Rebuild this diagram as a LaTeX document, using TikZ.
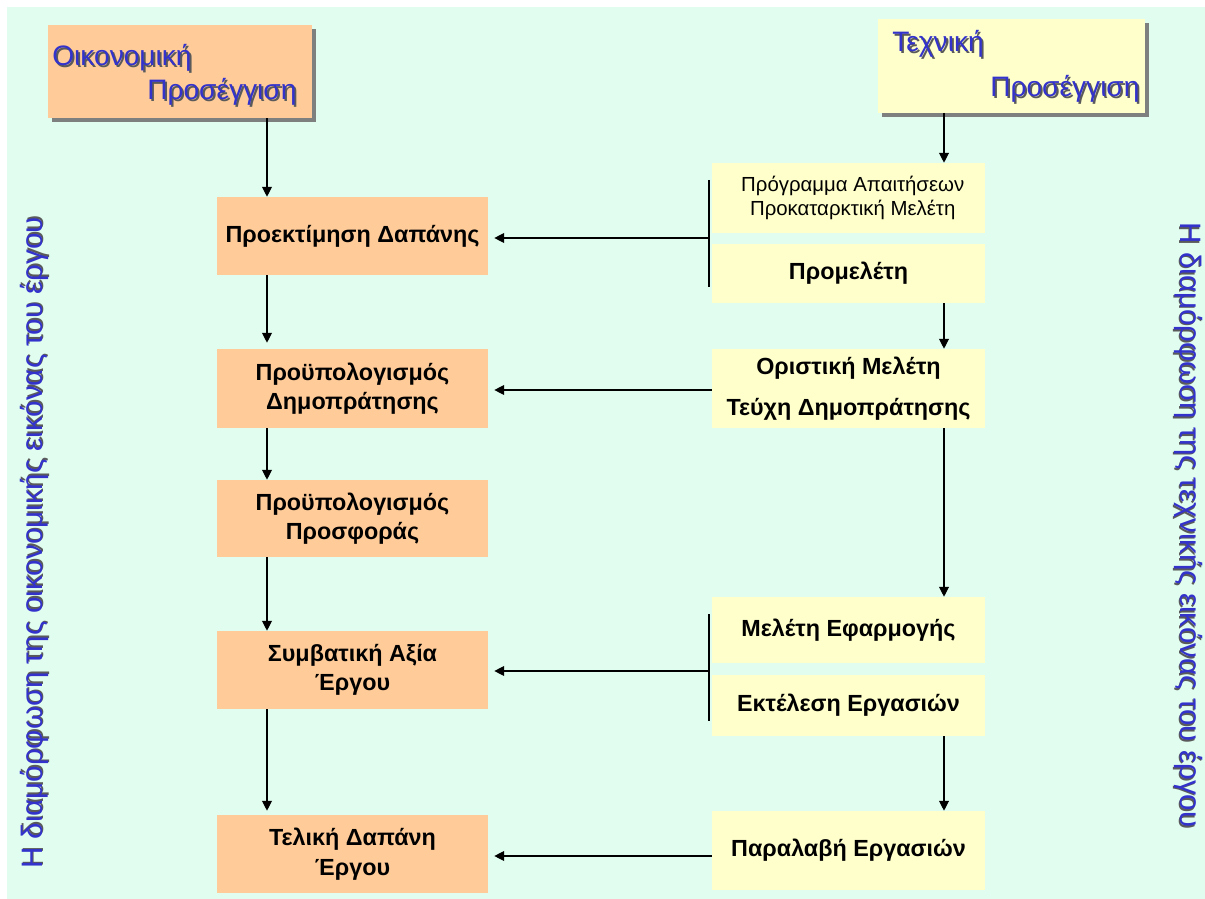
\documentclass[tikz,border=0pt]{standalone}
\usepackage{fontspec}
\setmainfont{Liberation Sans}
\usetikzlibrary{arrows.meta,shadows}

\definecolor{mint}{RGB}{224,253,240}
\definecolor{peach}{RGB}{255,204,153}
\definecolor{cream}{RGB}{255,255,204}
\definecolor{hblue}{RGB}{51,51,204}
\definecolor{shgray}{RGB}{90,90,90}

% blue text with a grey shadow
\newcommand\shtext[1]{\makebox[0pt][l]{\hspace{1.3pt}\raisebox{-1.3pt}{\color{shgray}#1}}{\color{hblue}#1}}

\begin{document}
\begin{tikzpicture}[x=0.025cm,y=-0.025cm,
    hdr/.style={inner sep=0pt,minimum width=6.6cm,minimum height=2.325cm,
      drop shadow={shadow xshift=0.1cm,shadow yshift=-0.1cm,fill=black!55,opacity=0.9}},
    htxt/.style={inner sep=0pt,font=\fontsize{20}{24}\selectfont},
    lbox/.style={fill=peach,inner sep=0pt,minimum width=6.775cm,align=center,
      font=\bfseries\fontsize{16.6}{21}\selectfont},
    rbox/.style={fill=cream,inner sep=0pt,minimum width=6.825cm,align=center,
      font=\bfseries\fontsize{16.6}{21}\selectfont},
    arr/.style={-{Triangle[width=7pt,length=7pt]},line width=0.8pt},
    brk/.style={line width=1.6pt}]
  \useasboundingbox (0,0) rectangle (1205,899);
  \fill[mint] (7,7) rectangle (1205,899);

  % the two approaches
  \node (oik) [hdr,fill=peach] at (180,71.5) {};
  \node (oikA) [htxt,anchor=base west] at (52,66) {\shtext{Οικονομική}};
  \node (oikB) [htxt,anchor=base west] at (147,100) {\shtext{Προσέγγιση}};
  \node (tex) [hdr,fill=cream,minimum width=6.675cm] at (1011.5,66) {};
  \node (texA) [htxt,anchor=base west] at (892,52) {\shtext{Τεχνική}};
  \node (texB) [htxt,anchor=base west] at (990,97) {\shtext{Προσέγγιση}};

  % economic side
  \node (pd)  [lbox,minimum height=1.95cm]  at (352.5,236)   {Προεκτίμηση Δαπάνης};
  \node (pyd) [lbox,minimum height=1.975cm] at (352.5,388.5) {Προϋπολογισμός\\Δημοπράτησης};
  \node (pyp) [lbox,minimum height=1.925cm] at (352.5,518.5) {Προϋπολογισμός\\Προσφοράς};
  \node (sae) [lbox,minimum height=1.95cm]  at (352.5,670)   {Συμβατική Αξία\\Έργου};
  \node (tde) [lbox,minimum height=1.95cm]  at (352.5,854)   {Τελική Δαπάνη\\Έργου};

  % technical side
  \node (pa) [rbox,minimum height=1.75cm,font=\fontsize{14.5}{17.5}\selectfont] at (848.5,198)
    {\hspace*{6pt}Πρόγραμμα Απαιτήσεων\\\hspace*{6pt}Προκαταρκτική Μελέτη};
  \node (pm) [rbox,minimum height=1.475cm] at (848.5,273.5) {Προμελέτη};
  \node (om) [rbox,minimum height=1.975cm] at (848.5,388.5) {Οριστική Μελέτη\\[8pt]Τεύχη Δημοπράτησης};
  \node (me) [rbox,minimum height=1.65cm]  at (848.5,630)   {Μελέτη Εφαρμογής};
  \node (ee) [rbox,minimum height=1.525cm] at (848.5,705.5) {Εκτέλεση Εργασιών};
  \node (pe) [rbox,minimum height=1.975cm] at (848.5,850.5) {Παραλαβή Εργασιών};

  % side titles
  \node (sl) [htxt,rotate=90,font=\fontsize{21}{24}\selectfont] at (35,543)
    {\shtext{Η διαμόρφωση της οικονομικής εικόνας του έργου}};
  \node (sr) [htxt,rotate=-90,font=\fontsize{21}{24}\selectfont] at (1188,525)
    {\shtext{Η διαμόρφωση της τεχνικής εικόνας του έργου}};

  \coordinate (lx) at (267,0);
  \coordinate (rx) at (944,0);
  \coordinate (b1t) at (709,180);
  \coordinate (b1m) at (709,238);
  \coordinate (b1b) at (709,287);
  \coordinate (b2t) at (709,614);
  \coordinate (b2m) at (709,671);
  \coordinate (b2b) at (709,721);

  % down the left
  \draw[arr] (oik.south -| lx) -- (pd.north -| lx);
  \draw[arr,shorten >=0.15cm] (pd.south -| lx) -- (pyd.north -| lx);
  \draw[arr] (pyd.south -| lx) -- (pyp.north -| lx);
  \draw[arr] (pyp.south -| lx) -- (sae.north -| lx);
  \draw[arr,shorten >=0.1cm] (sae.south -| lx) -- (tde.north -| lx);

  % down the right
  \draw[arr] (tex.south -| rx) -- (pa.north -| rx);
  \draw[arr] (pm.south -| rx) -- (om.north -| rx);
  \draw[arr] (om.south -| rx) -- (me.north -| rx);
  \draw[arr] (ee.south -| rx) -- (pe.north -| rx);

  % brackets and cross links
  \draw[brk] (b1t) -- (b1b);
  \draw[brk] (b2t) -- (b2b);
  \draw[arr,shorten >=0.15cm] (b1m) -- (b1m -| pd.east);
  \draw[arr,shorten >=0.15cm] (om.west |- 0,390) -- (pyd.east |- 0,390);
  \draw[arr,shorten >=0.15cm] (b2m) -- (b2m -| sae.east);
  \draw[arr,shorten >=0.15cm] (pe.west |- 0,856) -- (tde.east |- 0,856);
\end{tikzpicture}
\end{document}
